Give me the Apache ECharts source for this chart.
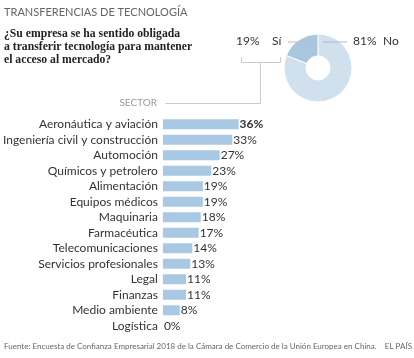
<!DOCTYPE html>
<html><head><meta charset="utf-8">
<script src="https://cdn.jsdelivr.net/npm/echarts@6/dist/echarts.min.js"></script>
<style>html,body{margin:0;padding:0;background:#fff}#c{width:414px;height:358px}</style>
</head><body><div id="c"></div>
<script>
const categories = ["Aeronáutica y aviación","Ingeniería civil y construcción","Automoción","Químicos y petrolero","Alimentación","Equipos médicos","Maquinaria","Farmacéutica","Telecomunicaciones","Servicios profesionales","Legal","Finanzas","Medio ambiente","Logística"];
const values = [36,33,27,23,19,19,18,17,14,13,11,11,8,0];
const pieNames = ["No","Sí"];
const pieValues = [81,19];

const SANS = 'Lato, Roboto, sans-serif';
const chart = echarts.init(document.getElementById('c'), null, {renderer:'canvas'});
chart.setOption({
  animation:false,
  grid:{left:162, top:116.5, width:85, height:217, containLabel:false},
  xAxis:{type:'value', min:0, max:40, show:false},
  yAxis:{type:'category', data:categories, inverse:true,
    axisLine:{show:false}, axisTick:{show:false},
    axisLabel:{interval:0, color:'#333', fontSize:12, fontFamily:SANS, margin:5}},
  series:[
    {type:'bar', data:values.map((v,i)=>({value:v, label:{fontWeight: i===0?'bold':'normal', color:'#333'}})),
     barWidth:10, itemStyle:{color:'#a9c8e3'},
     label:{show:true, position:'right', distance:1, formatter:p=>p.value+'%', fontSize:12, fontFamily:SANS, color:'#333'}},
    {type:'pie', center:[318,68], radius:[12,34], startAngle:90, clockwise:true,
     label:{show:false}, labelLine:{show:false}, silent:true,
     itemStyle:{borderColor:'#fff', borderWidth:1},
     data:pieNames.map((n,i)=>({name:n, value:pieValues[i], itemStyle:{color: i===0?'#d0e1ed':'#a9c6df'}}))}
  ],
  graphic:[
    {type:'text', left:4, top:7, style:{text:'TRANSFERENCIAS DE TECNOLOGÍA', font:'11px '+SANS, fill:'#666'}},
    {type:'text', left:4, top:27, style:{text:'¿Su empresa se ha sentido obligada\na transferir tecnología para mantener\nel acceso al mercado?', font:'bold 11.7px "Liberation Serif", serif', fill:'#222', lineHeight:13.3}},
    {type:'text', left:236, top:35, style:{text:'19%', font:'12px '+SANS, fill:'#333'}},
    {type:'text', left:272, top:35, style:{text:'Sí', font:'12px '+SANS, fill:'#333'}},
    {type:'text', left:353, top:35, style:{text:'81%', font:'12px '+SANS, fill:'#333'}},
    {type:'text', left:383, top:35, style:{text:'No', font:'12px '+SANS, fill:'#333'}},
    {type:'line', shape:{x1:288,y1:42,x2:310,y2:42}, style:{stroke:'#bbb', lineWidth:1}, z:100},
    {type:'line', shape:{x1:323,y1:42,x2:347,y2:42}, style:{stroke:'#bbb', lineWidth:1}, z:100},
    {type:'polyline', shape:{points:[[241.5,57],[241.5,62.5],[280.5,62.5],[280.5,57]]}, style:{stroke:'#ccc', lineWidth:1, fill:null}},
    {type:'polyline', shape:{points:[[260.5,62.5],[260.5,103.5],[165,103.5]]}, style:{stroke:'#ccc', lineWidth:1, fill:null}},
    {type:'text', right:414-157, top:98, style:{text:'SECTOR', font:'10px '+SANS, fill:'#999', align:'right'}},
    {type:'text', left:4, top:342, style:{text:'Fuente: Encuesta de Confianza Empresarial 2018 de la Cámara de Comercio de la Unión Europea en China.    EL PAÍS', font:'8px '+SANS, fill:'#666'}}
  ]
});
</script></body></html>
